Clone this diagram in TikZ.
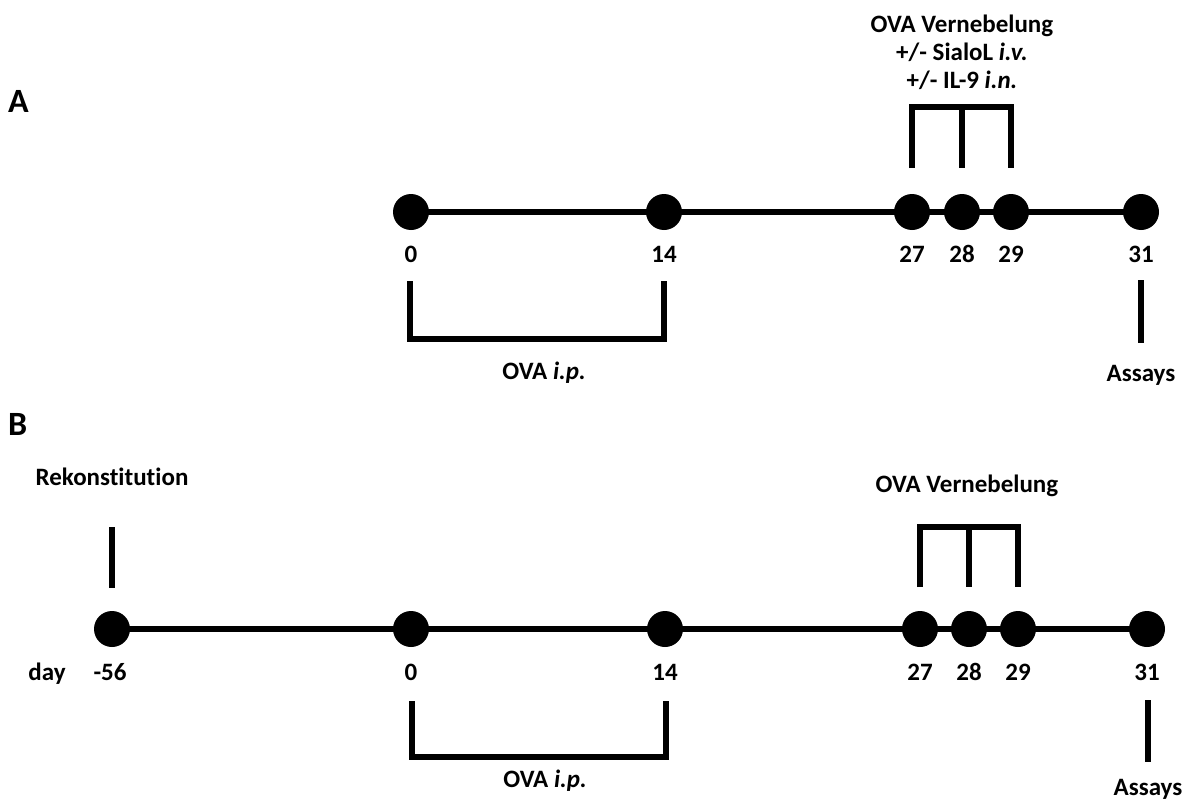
\documentclass[tikz,border=0pt]{standalone}
\usepackage{fontspec}
\setmainfont{Carlito}[Ligatures=CommonOff]
\begin{document}
\begin{tikzpicture}[x=1pt,y=-1pt,
  dot/.style={circle,fill=black,minimum size=36pt,inner sep=0pt},
  lbl/.style={font=\fontsize{25}{29}\selectfont\bfseries,inner sep=0pt,anchor=base},
  panel/.style={font=\fontsize{34}{34}\selectfont\bfseries,inner sep=0pt,anchor=base west},
  ln/.style={line width=6.5pt}]
\useasboundingbox (0,0) rectangle (1187,803);
% ---------- Panel A ----------
\node[panel] (A) at (8,112) {A};
\node[dot] (a0) at (411,212) {};
\node[dot] (a14) at (664,212) {};
\node[dot] (a27) at (912,212) {};
\node[dot] (a28) at (962,212) {};
\node[dot] (a29) at (1011,212) {};
\node[dot] (a31) at (1141,212) {};
\draw[ln] (a0.center) -- (a31.center);
\node[lbl] (la0) at (411,262) {0};
\node[lbl] (la14) at (664,262) {14};
\node[lbl] (la27) at (912,262) {27};
\node[lbl] (la28) at (962,262) {28};
\node[lbl] (la29) at (1011,262) {29};
\node[lbl] (la31) at (1141,262) {31};
% upper bracket
\coordinate (ua1) at (912,168);
\coordinate (ua2) at (962,168);
\coordinate (ua3) at (1011,168);
\coordinate (ta1) at (912,107);
\coordinate (ta2) at (962,107);
\coordinate (ta3) at (1011,107);
\draw[ln] (ua1) -- (ta1) -- (ta3) -- (ua3);
\draw[ln] (ta2) -- (ua2);
\node[lbl] (ovaA1) at (962,32) {OVA Vernebelung};
\node[lbl] (ovaA2) at (962,60) {+/- SialoL \textit{i.v.}};
\node[lbl] (ovaA3) at (962,88) {+/- IL-9 \textit{i.n.}};
% lower bracket
\coordinate (ba1) at (410,281);
\coordinate (ba2) at (410,339);
\coordinate (ba3) at (664,339);
\coordinate (ba4) at (664,281);
\draw[ln] (ba1) -- (ba2) -- (ba3) -- (ba4);
\node[lbl] (ipA) at (544,379) {OVA \textit{i.p.}};
% assays
\coordinate (sa1) at (1141,280);
\coordinate (sa2) at (1141,343);
\draw[ln] (sa1) -- (sa2);
\node[lbl] (asA) at (1141,381) {Assays};
% ---------- Panel B ----------
\node[panel] (B) at (8,435) {B};
\node[dot] (bm56) at (112,629) {};
\node[dot] (b0) at (411,629) {};
\node[dot] (b14) at (665,629) {};
\node[dot] (b27) at (920,629) {};
\node[dot] (b28) at (969,629) {};
\node[dot] (b29) at (1018,629) {};
\node[dot] (b31) at (1147,629) {};
\draw[ln] (bm56.center) -- (b31.center);
\node[lbl] (day) at (47,680) {day};
\node[lbl] (lbm56) at (110,680) {-56};
\node[lbl] (lb0) at (411,680) {0};
\node[lbl] (lb14) at (665,680) {14};
\node[lbl] (lb27) at (920,680) {27};
\node[lbl] (lb28) at (969,680) {28};
\node[lbl] (lb29) at (1018,680) {29};
\node[lbl] (lb31) at (1147,680) {31};
% rekonstitution
\node[lbl] (rek) at (112,485) {Rekonstitution};
\coordinate (r1) at (112,527);
\coordinate (r2) at (112,588);
\draw[ln] (r1) -- (r2);
% upper bracket
\coordinate (ub1) at (920,587);
\coordinate (ub2) at (969,587);
\coordinate (ub3) at (1018,587);
\coordinate (tb1) at (920,527);
\coordinate (tb2) at (969,527);
\coordinate (tb3) at (1018,527);
\draw[ln] (ub1) -- (tb1) -- (tb3) -- (ub3);
\draw[ln] (tb2) -- (ub2);
\node[lbl] (ovaB) at (967,492) {OVA Vernebelung};
% lower bracket
\coordinate (bb1) at (412,701);
\coordinate (bb2) at (412,757);
\coordinate (bb3) at (666,757);
\coordinate (bb4) at (666,701);
\draw[ln] (bb1) -- (bb2) -- (bb3) -- (bb4);
\node[lbl] (ipB) at (545,787) {OVA \textit{i.p.}};
% assays
\coordinate (sb1) at (1148,700);
\coordinate (sb2) at (1148,762);
\draw[ln] (sb1) -- (sb2);
\node[lbl] (asB) at (1148,795) {Assays};
\end{tikzpicture}
\end{document}
